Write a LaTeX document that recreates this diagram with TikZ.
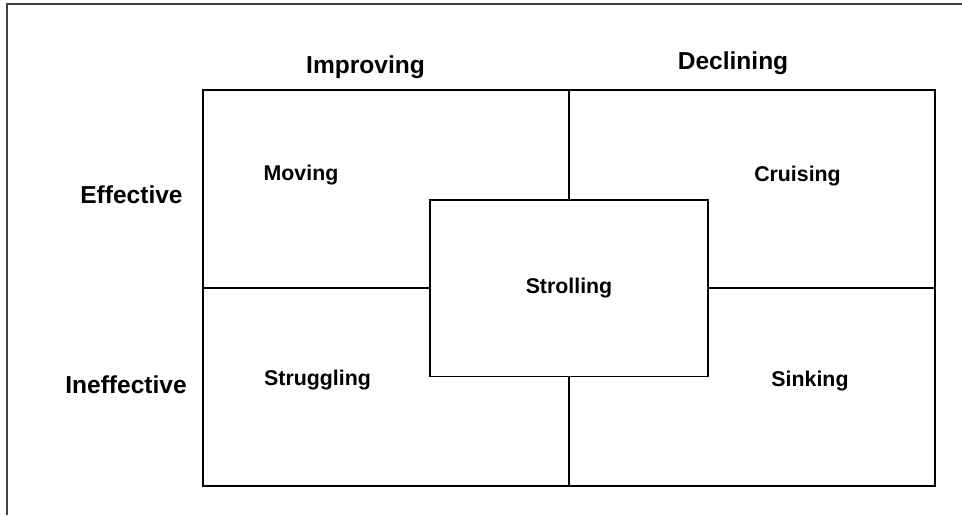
\documentclass[tikz,border=0pt]{standalone}
\usepackage{fontspec}
\setmainfont{Liberation Sans}
\usepackage{tikz}

\begin{document}
\begin{tikzpicture}[x=0.75pt, y=-0.75pt,
  grid/.style={line width=1.4pt, black},
  axislabel/.style={anchor=base, font=\fontsize{18.4}{22}\selectfont\bfseries},
  cell/.style={anchor=base, font=\fontsize{16}{19}\selectfont\bfseries}]
\useasboundingbox (0,0) rectangle (962,515);

% Outer frame (left and top edges only)
\draw[line width=1.3pt, black!75] (7,515) -- (7,4) -- (962,4);

% Quadrant box
\coordinate (tl) at (203,90);
\coordinate (br) at (935,486);
\draw[grid] (tl) rectangle (br);

% Centre box
\node[grid, draw, minimum width=278*0.75pt, minimum height=176.5*0.75pt,
  inner sep=0pt, font=\fontsize{16}{19}\selectfont\bfseries] (strolling) at (569,288.3) {Strolling};

% Dividers from the outer box to the centre box
\draw[grid] (strolling.north) -- (strolling.north |- tl);
\draw[grid] (strolling.south) -- (strolling.south |- br);
\draw[grid] (strolling.west) -- (strolling.west -| tl);
\draw[grid] (strolling.east) -- (strolling.east -| br);

% Column and row labels
\node[axislabel] (improving) at (365.5,73) {Improving};
\node[axislabel] (declining) at (733,69) {Declining};
\node[axislabel] (effective) at (131.5,203) {Effective};
\node[axislabel] (ineffective) at (126,393) {Ineffective};

% Cell labels
\node[cell] (moving) at (301,180.5) {Moving};
\node[cell] (cruising) at (797.5,181) {Cruising};
\node[cell] (struggling) at (317.5,385.7) {Struggling};
\node[cell] (sinking) at (810,386) {Sinking};
\end{tikzpicture}
\end{document}
